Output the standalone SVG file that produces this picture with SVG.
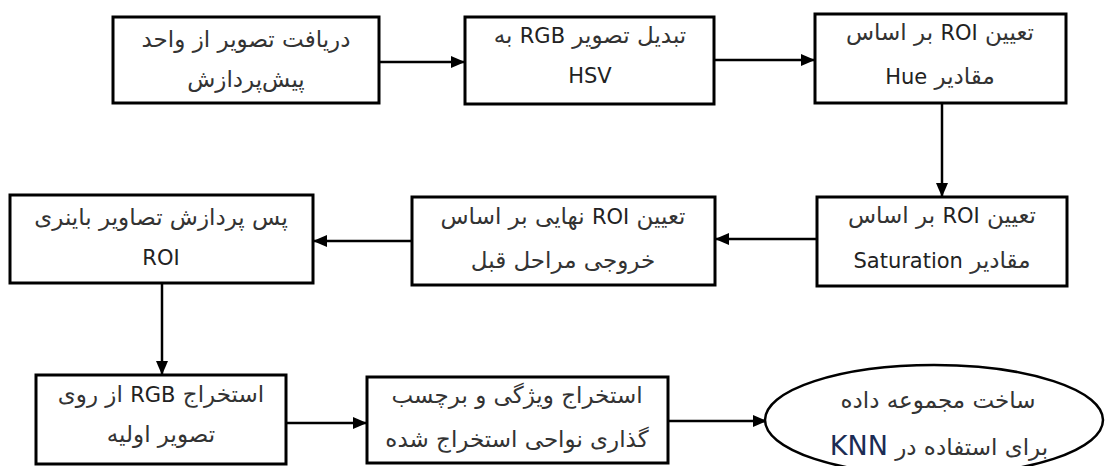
<svg xmlns="http://www.w3.org/2000/svg" width="1109" height="466" viewBox="0 0 1109 466">
<defs>
<marker id="ah" markerWidth="14" markerHeight="12" refX="13" refY="6" orient="auto" markerUnits="userSpaceOnUse">
<path d="M0,0 L14,6 L0,12 Z" fill="#000"/>
</marker>
<style>
.box{fill:#fff;stroke:#000;stroke-width:3}
.cn{fill:none;stroke:#000;stroke-width:2.5;marker-end:url(#ah)}
.t{font-family:"DejaVu Sans",sans-serif;font-size:23px;fill:#333;text-anchor:middle;direction:rtl}
.l{font-family:"DejaVu Sans",sans-serif;font-size:21px;fill:#222}
.knn{font-family:"DejaVu Sans",sans-serif;font-size:27px;fill:#1b2c55}
</style>
</defs>
<rect width="1109" height="466" fill="#fff"/>
<g id="connectors">
<line class="cn" x1="380" y1="62" x2="464" y2="62"/>
<line class="cn" x1="715" y1="60" x2="814" y2="60"/>
<line class="cn" x1="942" y1="103" x2="942" y2="196"/>
<line class="cn" x1="817" y1="239" x2="716" y2="239"/>
<line class="cn" x1="412" y1="241" x2="314" y2="241"/>
<line class="cn" x1="162" y1="283" x2="162" y2="374"/>
<line class="cn" x1="286" y1="423" x2="366" y2="423"/>
<line class="cn" x1="668" y1="421" x2="766" y2="421"/>
</g>
<g id="n1">
<rect class="box" x="113" y="17" width="266" height="86"/>
<text class="t" x="246" y="47">دریافت تصویر از واحد</text>
<text class="t" x="246" y="87">پیش‌پردازش</text>
</g>
<g id="n2">
<rect class="box" x="465" y="17" width="249" height="87"/>
<text class="t" x="590" y="43">تبدیل تصویر <tspan class="l">RGB</tspan> به</text>
<text class="t" x="590" y="83"><tspan class="l">HSV</tspan></text>
</g>
<g id="n3">
<rect class="box" x="815" y="14" width="251" height="89"/>
<text class="t" x="940" y="40">تعیین <tspan class="l">ROI</tspan> بر اساس</text>
<text class="t" x="940" y="84">مقادیر <tspan class="l">Hue</tspan></text>
</g>
<g id="n4">
<rect class="box" x="817" y="197" width="250" height="89"/>
<text class="t" x="942" y="223">تعیین <tspan class="l">ROI</tspan> بر اساس</text>
<text class="t" x="942" y="268">مقادیر  <tspan class="l">Saturation</tspan></text>
</g>
<g id="n5">
<rect class="box" x="412" y="197" width="303" height="88"/>
<text class="t" x="563" y="224">تعیین <tspan class="l">ROI</tspan> نهایی بر اساس</text>
<text class="t" x="563" y="268">خروجی مراحل قبل</text>
</g>
<g id="n6">
<rect class="box" x="10" y="195" width="303" height="88"/>
<text class="t" x="161" y="225">پس پردازش تصاویر باینری</text>
<text class="t" x="161" y="265"><tspan class="l">ROI</tspan></text>
</g>
<g id="n7">
<rect class="box" x="36" y="375" width="250" height="89"/>
<text class="t" x="161" y="402">استخراج <tspan class="l">RGB</tspan> از روی</text>
<text class="t" x="161" y="442">تصویر اولیه</text>
</g>
<g id="n8">
<rect class="box" x="367" y="377" width="301" height="86"/>
<text class="t" x="517" y="403">استخراج ویژگی و برچسب</text>
<text class="t" x="517" y="447">گذاری نواحی استخراج شده</text>
</g>
<g id="n9">
<ellipse cx="934" cy="420" rx="169" ry="55" fill="#fff" stroke="#000" stroke-width="2.5"/>
<text class="t" x="938" y="408">ساخت مجموعه داده</text>
<text class="t" x="939" y="455">برای استفاده در <tspan class="knn">KNN</tspan></text>
</g>
</svg>
